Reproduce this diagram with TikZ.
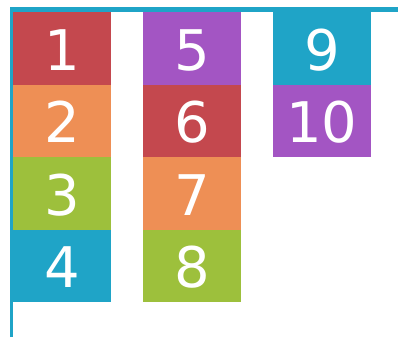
\documentclass[tikz,border=0pt]{standalone}
\usepackage{fontspec}
\setmainfont{DejaVu Sans}
\usetikzlibrary{positioning}
\definecolor{rojo}{HTML}{C4484E}
\definecolor{naranja}{HTML}{EE8F55}
\definecolor{verde}{HTML}{9DC03C}
\definecolor{azul}{HTML}{1FA4C7}
\definecolor{morado}{HTML}{A355C3}
\begin{document}
\begin{tikzpicture}[
    x=1pt,y=1pt,
    item/.style={text=white,inner sep=0pt,outer sep=0pt,
                 minimum width=98pt,minimum height=72.5pt,
                 text height=44pt,text depth=0pt,
                 font=\fontsize{56}{56}\selectfont},
    frame/.style={azul}]
  \useasboundingbox (0,0) rectangle (398,-337);
  % --- borde del contenedor
  \draw[frame,line width=3pt] (11.5,-337) -- (11.5,-9.5);
  \draw[frame,line width=4.5pt] (10,-9.5) -- (398,-9.5);
  % --- primera columna
  \node[item,fill=rojo,anchor=north west] (b1) at (13,-12) {1};
  \node[item,fill=naranja,below=0pt of b1] (b2) {2};
  \node[item,fill=verde,below=0pt of b2] (b3) {3};
  \node[item,fill=azul,below=0pt of b3] (b4) {4};
  % --- segunda columna
  \node[item,fill=morado,right=32pt of b1] (b5) {5};
  \node[item,fill=rojo,below=0pt of b5] (b6) {6};
  \node[item,fill=naranja,below=0pt of b6] (b7) {7};
  \node[item,fill=verde,below=0pt of b7] (b8) {8};
  % --- tercera columna
  \node[item,fill=azul,right=32pt of b5] (b9) {9};
  \node[item,fill=morado,below=0pt of b9] (b10) {10};
\end{tikzpicture}
\end{document}
